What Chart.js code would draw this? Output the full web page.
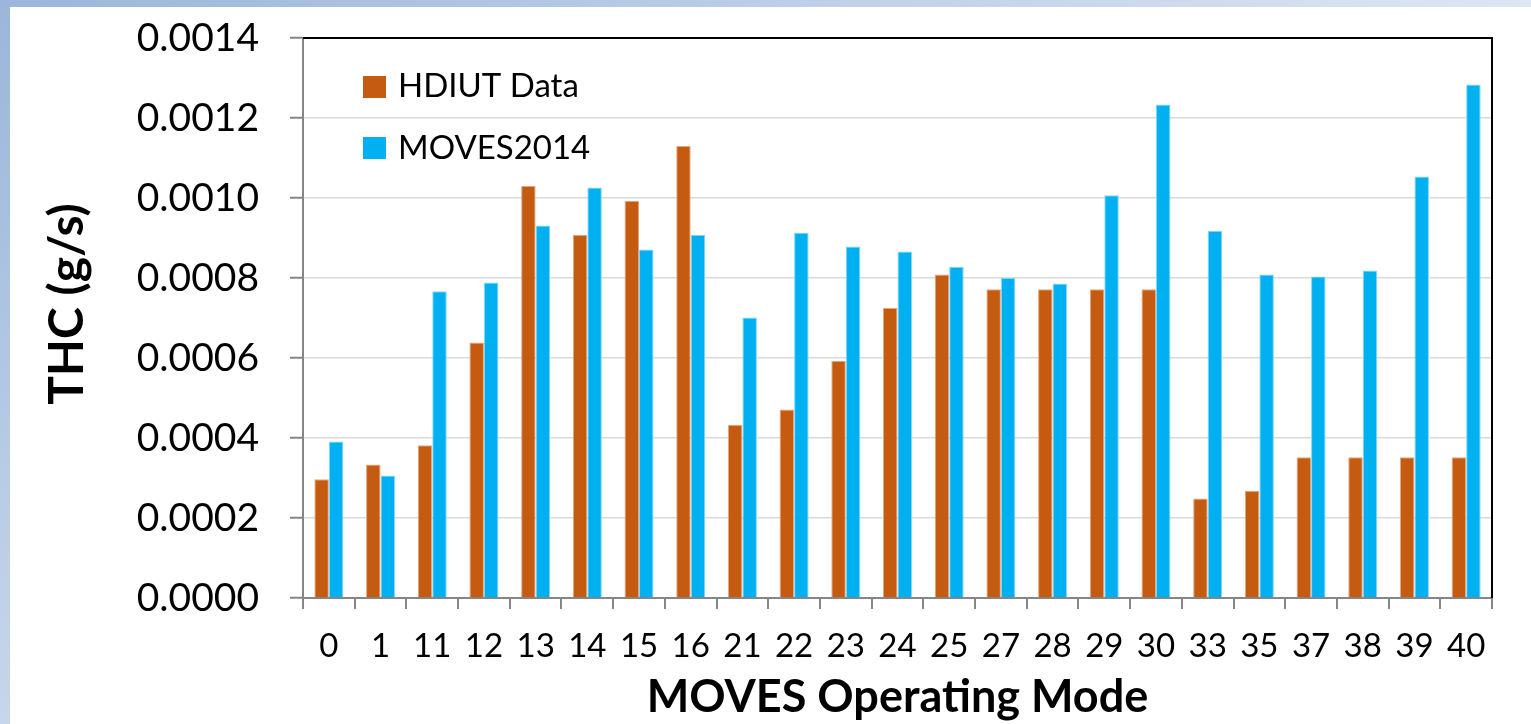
<!DOCTYPE html>
<html><head><meta charset="utf-8">
<script src="https://cdn.jsdelivr.net/npm/chart.js@4.4.1/dist/chart.umd.min.js"></script>
<style>
html,body{margin:0;padding:0;width:1531px;height:724px;overflow:hidden;}
#bg{position:absolute;left:0;top:0;width:1531px;height:724px;background:linear-gradient(180deg,#9BB6DA,#C6D7EB);}
#topstrip{position:absolute;left:0;top:0;width:1531px;height:7px;background:linear-gradient(90deg,#9BB6DA,#DDE6F3);}
#white{position:absolute;left:10px;top:7px;right:0;bottom:0;background:#fff;}
#wrap{position:absolute;left:0;top:0;width:1531px;height:724px;}
</style></head><body>
<div id="bg"></div><div id="topstrip"></div><div id="white"></div>
<div id="wrap"><canvas id="c" width="1531" height="724"></canvas></div>
<script>
const modes = ['0','1','11','12','13','14','15','16','21','22','23','24','25','27','28','29','30','33','35','37','38','39','40'];
const hdiutData = [0.000297,0.000334,0.000382,0.000639,0.00103,0.000908,0.000993,0.00113,0.000433,0.000471,0.000593,0.000725,0.000809,0.000772,0.000772,0.000772,0.000772,0.000249,0.000268,0.000352,0.000352,0.000352,0.000352];
const moves2014 = [0.000391,0.000306,0.000767,0.000789,0.000931,0.001026,0.000871,0.000908,0.000701,0.000913,0.000879,0.000866,0.000828,0.0008,0.000786,0.001007,0.001234,0.000918,0.000809,0.000804,0.000819,0.001054,0.001284];
const seriesNames = ['HDIUT Data','MOVES2014'];
const yMin = 0, yMax = 0.0014, yStep = 0.0002;
const xTitle = 'MOVES Operating Mode';
const yTitle = 'THC (g/s)';

const FONT = 'Lato';

const decor = {
  id:'decor',
  afterDraw(chart){
    const ctx = chart.ctx, a = chart.chartArea;
    ctx.save();
    ctx.strokeStyle = '#000'; ctx.lineWidth = 2;
    ctx.beginPath();
    ctx.moveTo(a.left, a.top); ctx.lineTo(a.right, a.top); ctx.lineTo(a.right, a.bottom);
    ctx.stroke();
    // legend
    chart.data.datasets.forEach((ds,i)=>{
      ctx.fillStyle = ds.backgroundColor;
      ctx.fillRect(363, 76 + i*61, 23, 22);
      ctx.fillStyle = '#000';
      ctx.font = '33px ' + FONT;
      ctx.textAlign = 'left'; ctx.textBaseline = 'alphabetic';
      ctx.fillText(ds.label, 398, 97 + i*62);
    });
    // y title
    ctx.translate(68, 304);
    ctx.rotate(-Math.PI/2);
    ctx.font = 'bold 48px ' + FONT;
    ctx.textAlign = 'center'; ctx.textBaseline = 'middle';
    ctx.fillStyle = '#000';
    ctx.fillText(yTitle, 0, 0);
    ctx.restore();
  }
};

new Chart(document.getElementById('c'), {
  type:'bar',
  data:{
    labels: modes,
    datasets:[
      {label: seriesNames[0], data: hdiutData, backgroundColor:'#C55A11', borderColor:'#E2A87F', borderWidth:1},
      {label: seriesNames[1], data: moves2014, backgroundColor:'#00B0F0', borderColor:'#80D8F8', borderWidth:1}
    ]
  },
  options:{
    responsive:false, animation:false,
    layout:{padding:{left:0,right:39,top:38,bottom:0}},
    datasets:{bar:{categoryPercentage:0.561, barPercentage:1}},
    plugins:{legend:{display:false}, tooltip:{enabled:false}},
    scales:{
      x:{
        grid:{drawOnChartArea:false, drawTicks:true, tickLength:11, tickColor:'#868686', lineWidth:2, offset:true},
        border:{color:'#868686', width:2},
        ticks:{font:{family:FONT,size:33}, color:'#000', padding:18, maxRotation:0, autoSkip:false},
        title:{display:true, text:xTitle, font:{family:FONT,size:45,weight:'bold'}, color:'#000', padding:{top:0,bottom:0}},
        afterFit(s){ s.height = 126; }
      },
      y:{
        min:yMin, max:yMax,
        grid:{color:'#D9D9D9', lineWidth:1.5, tickColor:'#868686', tickLength:13, tickWidth:2},
        border:{color:'#868686', width:2},
        ticks:{stepSize:yStep, font:{family:FONT,size:39,lineHeight:0.3}, color:'#000', padding:31, callback:v=>Number(v).toFixed(4)},
        afterFit(s){ s.width = 303; }
      }
    }
  },
  plugins:[decor]
});
</script>
</body></html>
